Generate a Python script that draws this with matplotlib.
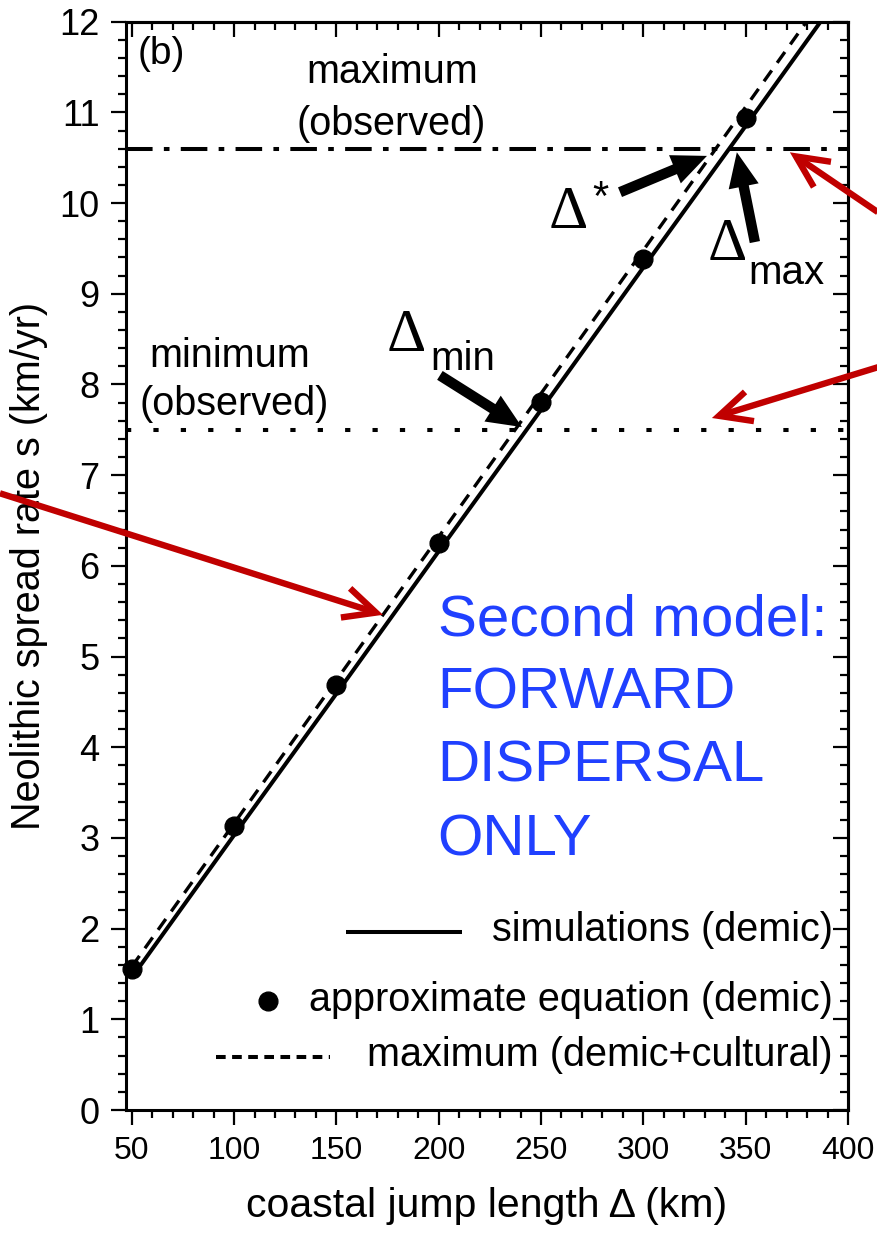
"""Neolithic spread rate versus coastal jump length (second model, forward dispersal)."""

import matplotlib

matplotlib.use("Agg")
import matplotlib.pyplot as plt
from matplotlib.ticker import MultipleLocator

# simulations (demic), solid line
sim_delta = [50, 100, 150, 200, 250, 300, 350, 400]
sim_rate = [1.46, 3.03, 4.59, 6.16, 7.72, 9.29, 10.85, 12.42]

# approximate equation (demic), dots
approx_delta = [50, 100, 150, 200, 250, 300, 350]
approx_rate = [1.56, 3.13, 4.69, 6.25, 7.81, 9.38, 10.94]

# maximum (demic+cultural), dashed line
max_delta = [50, 100, 150, 200, 250, 300, 350, 400]
max_rate = [1.58, 3.16, 4.74, 6.32, 7.90, 9.48, 11.06, 12.64]

observed_max = 10.6
observed_min = 7.5

x_ticks = [50, 100, 150, 200, 250, 300, 350, 400]
y_ticks = list(range(0, 13))

BLUE = "#2040ff"
RED = "#c00000"

plt.rcParams["font.family"] = ["Liberation Sans", "DejaVu Sans"]

fig = plt.figure(figsize=(8.78, 12.39), dpi=100)
ax = fig.add_axes([0.1435, 0.1041, 0.8223, 0.8784])

ax.plot(sim_delta, sim_rate, color="k", lw=2.9, solid_capstyle="butt")
ax.plot(max_delta, max_rate, color="k", lw=2.4, dashes=(4.0, 2.8))
ax.plot(approx_delta, approx_rate, "o", color="k", ms=13.5, clip_on=False)
ax.axhline(observed_max, color="k", lw=2.9, dashes=(6.6, 2.8, 1.4, 2.8))
ax.axhline(observed_min, color="k", lw=2.9, dashes=(1.3, 5.5))

ax.set_xlim(47.2, 400)
ax.set_ylim(0, 12)
ax.set_xticks(x_ticks)
ax.set_yticks(y_ticks)
ax.xaxis.set_minor_locator(MultipleLocator(10))
ax.yaxis.set_minor_locator(MultipleLocator(0.2))
ax.tick_params(axis="both", which="major", direction="out", length=11, width=1.6, pad=8)
ax.tick_params(axis="both", which="minor", direction="out", length=5.5, width=1.6)
ax.tick_params(axis="x", labelsize=23)
ax.tick_params(axis="y", labelsize=26)
for spine in ax.spines.values():
    spine.set_linewidth(2.2)

# mirrored ticks pointing inward on top and right
top = ax.secondary_xaxis("top")
top.set_xticks(x_ticks)
top.xaxis.set_minor_locator(MultipleLocator(10))
top.tick_params(which="major", direction="in", length=11, width=1.6, labeltop=False)
top.tick_params(which="minor", direction="in", length=5.5, width=1.6)
right = ax.secondary_yaxis("right")
right.set_yticks(y_ticks)
right.yaxis.set_minor_locator(MultipleLocator(0.2))
right.tick_params(which="major", direction="in", length=11, width=1.6, labelright=False)
right.tick_params(which="minor", direction="in", length=5.5, width=1.6)
for sec in (top, right):
    for spine in sec.spines.values():
        spine.set_linewidth(2.2)

ax.set_xlabel("coastal jump length \u0394 (km)", fontsize=29.5, labelpad=15)
ax.set_ylabel("Neolithic spread rate s (km/yr)", fontsize=28.5, labelpad=8)

ax.text(53.1, 11.64, "(b)", fontsize=28, ha="left", va="center")
ax.text(177.2, 11.45, "maximum", fontsize=28.5, ha="center", va="center")
ax.text(176.7, 10.87, "(observed)", fontsize=28.5, ha="center", va="center")
ax.text(98.0, 8.31, "minimum", fontsize=28.5, ha="center", va="center")
ax.text(100.0, 7.78, "(observed)", fontsize=28.5, ha="center", va="center")

# Delta labels: symbol-style Delta with plain subscript text
delta_font = dict(family=["Liberation Serif", "DejaVu Serif"], fontsize=44)
ax.text(184.0, 8.53, "\u0394", ha="center", va="center", **delta_font)
ax.text(195.7, 8.16, "min", fontsize=29, ha="left", va="baseline")
ax.text(263.2, 9.89, "\u0394", ha="center", va="center", **delta_font)
ax.text(278.8, 10.05, "*", fontsize=30, ha="center", va="center")
ax.text(340.9, 9.53, "\u0394", ha="center", va="center", **delta_font)
ax.text(351.1, 9.11, "max", fontsize=29, ha="left", va="baseline")

black_arrow = dict(
    arrowstyle="simple,head_length=2.5,head_width=2.2,tail_width=0.75",
    mutation_scale=10, color="k", lw=0, shrinkA=0, shrinkB=0,
)
for tail, tip in (
    ((200.6, 8.10), (240.7, 7.53)),
    ((288.6, 10.12), (331.1, 10.52)),
    ((354.5, 9.57), (345.7, 10.56)),
):
    ax.annotate("", xy=tip, xytext=tail, arrowprops=black_arrow, annotation_clip=False)

red_arrow = dict(
    arrowstyle="->,head_length=2.3,head_width=1.1",
    mutation_scale=10, color=RED, lw=4.6, shrinkA=0, shrinkB=0,
    joinstyle="miter", capstyle="butt",
)
for tail, tip in (
    ((-14.4, 6.80), (172.8, 5.46)),
    ((414.6, 8.19), (333.5, 7.63)),
    ((414.6, 9.90), (371.6, 10.56)),
):
    ax.annotate("", xy=tip, xytext=tail, arrowprops=red_arrow, annotation_clip=False)

ax.text(
    199.5, 5.70, "Second model:\nFORWARD\nDISPERSAL\nONLY",
    fontsize=42, color=BLUE, ha="left", va="top", linespacing=1.46,
)

# hand-placed legend, right aligned like the original
ax.plot([154.9, 211.4], [1.96, 1.96], color="k", lw=2.9, solid_capstyle="butt")
ax.text(392.7, 1.98, "simulations (demic)", fontsize=28.5, ha="right", va="center")
ax.plot([116.6], [1.20], "o", color="k", ms=13.5)
ax.text(392.7, 1.21, "approximate equation (demic)", fontsize=28.5, ha="right", va="center")
ax.plot([91.2, 146.9], [0.58, 0.58], color="k", lw=2.9, dashes=(2.4, 1.6))
ax.text(392.7, 0.61, "maximum (demic+cultural)", fontsize=28.5, ha="right", va="center")

fig.savefig("out.png", dpi=100)
